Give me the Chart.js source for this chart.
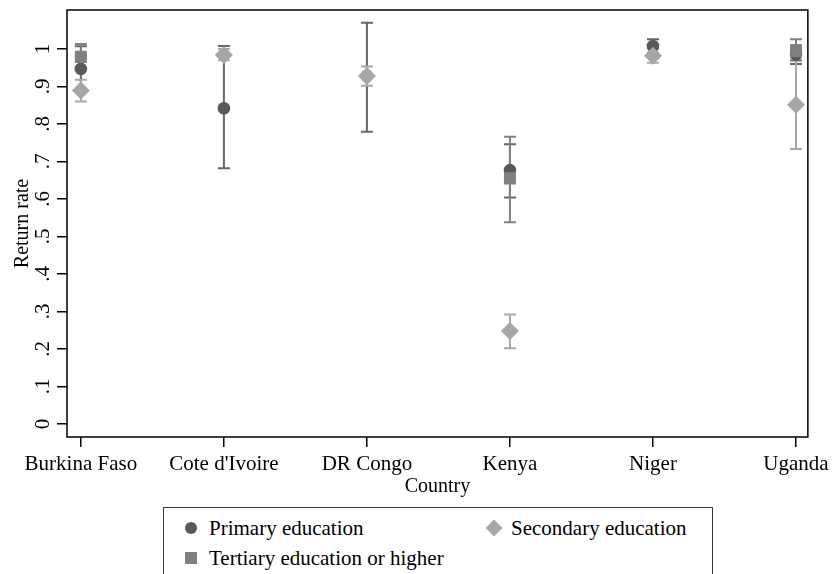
<!DOCTYPE html>
<html lang="en">
<head>
<meta charset="UTF-8">
<title>Return rate by country and education</title>
<script src="https://cdn.jsdelivr.net/npm/chart.js@4.4.1/dist/chart.umd.min.js"></script>
<style>
  body { margin: 0; background: #fff; font-family: "Liberation Serif", "Times New Roman", serif; }
  #wrap { position: relative; width: 834px; height: 574px; overflow: hidden; }
  #box { position: absolute; left: 0; top: 0; width: 834px; height: 500px; }
  .legend { position: absolute; left: 163px; top: 507px; width: 548px; height: 90px; border: 1px solid #3a3a3a; }
  .item { position: absolute; font-size: 21px; line-height: 24px; color: #000; white-space: nowrap; }
  .mk { position: absolute; }
  .circle { width: 12px; height: 12px; border-radius: 50%; background: #595959; }
  .square { width: 12px; height: 12px; background: #808080; }
  .diamond { width: 12px; height: 12px; background: #a6a6a6; transform: rotate(45deg); }
</style>
</head>
<body>
<div id="wrap">
  <div id="box"><canvas id="myChart"></canvas></div>
  <!-- legend -->
  <div class="legend">
    <span class="mk circle" style="left:21px; top:14px;"></span>
    <div class="item" style="left:45px; top:8px;">Primary education</div>
    <span class="mk diamond" style="left:324px; top:14px;"></span>
    <div class="item" style="left:347px; top:8px;">Secondary education</div>
    <span class="mk square" style="left:21px; top:44px;"></span>
    <div class="item" style="left:45px; top:38px;">Tertiary education or higher</div>
  </div>
</div>
<script>
const countries = ['Burkina Faso', "Cote d'Ivoire", 'DR Congo', 'Kenya', 'Niger', 'Uganda'];

const primaryRate = [0.947, 0.842, 0.928, 0.677, 1.008, 0.985];
const primaryLow  = [0.890, 0.682, 0.779, 0.604, 0.990, 0.960];
const primaryHigh = [1.007, 1.008, 1.070, 0.746, 1.026, 1.010];

const secondaryRate = [0.889, 0.984, 0.928, 0.248, 0.982, 0.851];
const secondaryLow  = [0.860, 0.970, 0.902, 0.202, 0.963, 0.733];
const secondaryHigh = [0.918, 1.000, 0.953, 0.292, 1.000, 0.970];

const tertiaryRate = [0.979, null, null, 0.655, null, 0.995];
const tertiaryLow  = [0.945, null, null, 0.538, null, 0.969];
const tertiaryHigh = [1.013, null, null, 0.766, null, 1.026];

const yTicks  = [0, 0.1, 0.2, 0.3, 0.4, 0.5, 0.6, 0.7, 0.8, 0.9, 1];
const yLabels = ['0', '.1', '.2', '.3', '.4', '.5', '.6', '.7', '.8', '.9', '1'];

function points(rates) {
  var out = [];
  rates.forEach(function (v, i) { if (v != null) out.push({ x: i, y: v }); });
  return out;
}

// vertical error bars with caps, under the markers
const errorBars = {
  id: 'errorBars',
  beforeDatasetsDraw(chart) {
    const ctx = chart.ctx, xs = chart.scales.x, ys = chart.scales.y;
    chart.data.datasets.forEach(function (ds) {
      ctx.save();
      ctx.strokeStyle = ds.barColor;
      ctx.lineWidth = 2;
      ds.lows.forEach(function (lo, i) {
        if (lo == null) return;
        const px = xs.getPixelForValue(i);
        const y1 = ys.getPixelForValue(lo), y2 = ys.getPixelForValue(ds.highs[i]);
        ctx.beginPath();
        ctx.moveTo(px, y1); ctx.lineTo(px, y2);
        ctx.moveTo(px - 6, y1); ctx.lineTo(px + 6, y1);
        ctx.moveTo(px - 6, y2); ctx.lineTo(px + 6, y2);
        ctx.stroke();
      });
      ctx.restore();
    });
  }
};

// box round the plot and rotated y tick labels
const frame = {
  id: 'frame',
  afterDraw(chart) {
    const ctx = chart.ctx, a = chart.chartArea, ys = chart.scales.y;
    ctx.save();
    ctx.strokeStyle = '#000';
    ctx.lineWidth = 1.5;
    ctx.strokeRect(a.left, a.top, a.right - a.left, a.bottom - a.top);
    ctx.fillStyle = '#000';
    ctx.font = '21px "Liberation Serif"';
    ctx.textAlign = 'center';
    ctx.textBaseline = 'alphabetic';
    yTicks.forEach(function (v, k) {
      ctx.save();
      ctx.translate(a.left - 18, ys.getPixelForValue(v));
      ctx.rotate(-Math.PI / 2);
      ctx.fillText(yLabels[k], 0, 0);
      ctx.restore();
    });
    ctx.restore();
  }
};

var ctx = document.getElementById('myChart').getContext('2d');
var myChart = new Chart(ctx, {
  type: 'scatter',
  data: {
    datasets: [
      {
        label: 'Primary education',
        data: points(primaryRate),
        lows: primaryLow, highs: primaryHigh, barColor: '#666666',
        pointStyle: 'circle', pointRadius: 6.3,
        backgroundColor: '#595959', borderColor: '#595959', borderWidth: 0,
        order: 3
      },
      {
        label: 'Secondary education',
        data: points(secondaryRate),
        lows: secondaryLow, highs: secondaryHigh, barColor: '#a8a8a8',
        pointStyle: 'rectRot', pointRadius: 9,
        backgroundColor: '#a6a6a6', borderColor: '#a6a6a6', borderWidth: 0,
        order: 2
      },
      {
        label: 'Tertiary education or higher',
        data: points(tertiaryRate),
        lows: tertiaryLow, highs: tertiaryHigh, barColor: '#808080',
        pointStyle: 'rect', pointRadius: 8.5,
        backgroundColor: '#808080', borderColor: '#808080', borderWidth: 0,
        order: 1
      }
    ]
  },
  options: {
    responsive: true,
    maintainAspectRatio: false,
    animation: false,
    events: [],
    layout: { padding: { left: 0, top: 10, right: 22, bottom: 0 } },
    plugins: { legend: { display: false }, tooltip: { enabled: false } },
    scales: {
      x: {
        type: 'linear',
        min: -0.097,
        max: 5.083,
        afterBuildTicks: function (s) { s.ticks = countries.map(function (c, i) { return { value: i }; }); },
        afterFit: function (s) { s.height = 63; },
        border: { display: false },
        grid: { display: true, drawOnChartArea: false, drawTicks: true, tickLength: 10, color: '#000', lineWidth: 1.5 },
        ticks: {
          autoSkip: false, maxRotation: 0, padding: 5, color: '#000',
          font: { family: 'Liberation Serif', size: 21 },
          callback: function (v) { return countries[v]; }
        },
        title: {
          display: true, text: 'Country', color: '#000',
          font: { family: 'Liberation Serif', size: 20 },
          padding: { top: 0, bottom: 1 }
        }
      },
      y: {
        min: -0.0347,
        max: 1.104,
        afterBuildTicks: function (s) { s.ticks = yTicks.map(function (v) { return { value: v }; }); },
        afterFit: function (s) { s.width = 67; },
        border: { display: false },
        grid: { display: true, drawOnChartArea: false, drawTicks: true, tickLength: 10, color: '#000', lineWidth: 1.5 },
        ticks: { display: false },
        title: {
          display: true, text: 'Return rate', color: '#000',
          font: { family: 'Liberation Serif', size: 20 },
          padding: { top: 11, bottom: 0 }
        }
      }
    }
  },
  plugins: [errorBars, frame]
});
</script>
</body>
</html>
